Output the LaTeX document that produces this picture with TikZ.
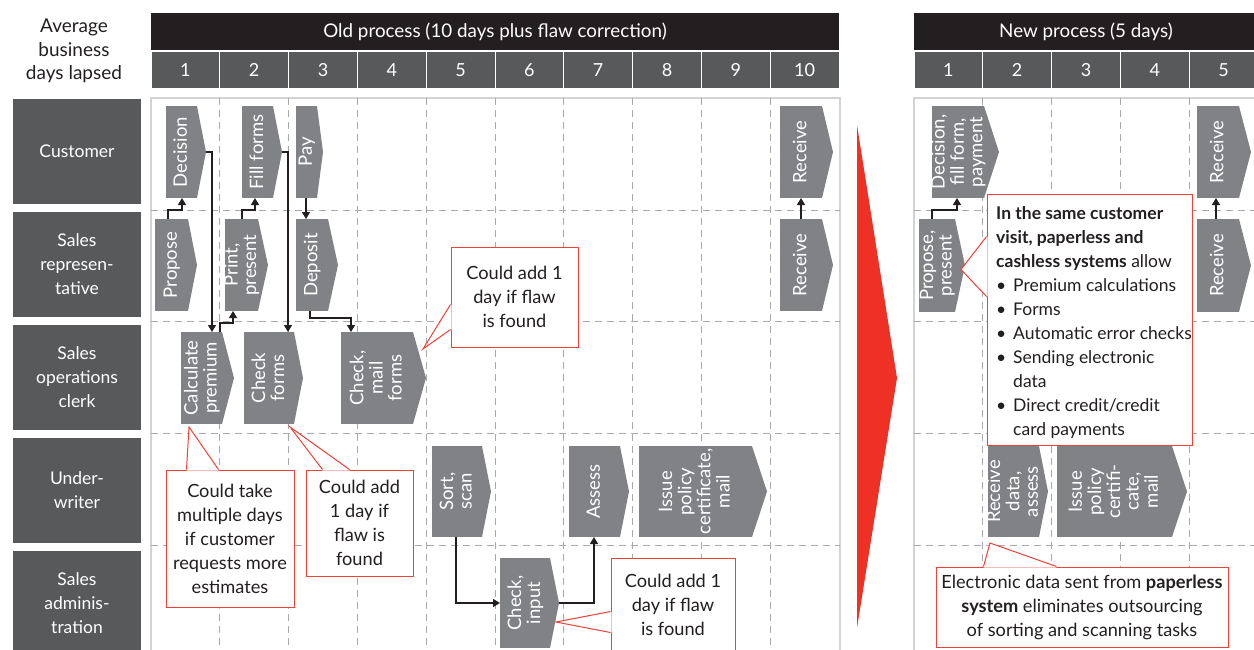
\documentclass[tikz,border=0pt]{standalone}
\usepackage{fontspec}
\setmainfont{Lato}
\usepackage{graphicx}
\usetikzlibrary{arrows.meta,calc}
\definecolor{inkblack}{HTML}{231F20}
\definecolor{darkgrey}{HTML}{58595B}
\definecolor{stepgrey}{HTML}{808285}
\definecolor{gridgrey}{HTML}{A7A9AC}
\definecolor{bordergrey}{HTML}{D1D3D4}
\definecolor{bigred}{HTML}{EE3124}
\definecolor{callred}{HTML}{EF4136}
\newcommand\blt{\makebox[17pt][l]{\textbullet}}
\newcommand\stepshape[7]{%
  \node[stepbody, minimum width={(#4)-(#2)}, minimum height={(#5)-(#3)}] (#1) at ({((#2)+(#4))/2},{((#3)+(#5))/2}) {};
  \fill[stepgrey] (#1.north east) -- ({#6},{((#3)+(#5))/2}) coordinate (#1-tip) -- (#1.south east) -- cycle;
  \node[steptext] (#1-t) at ($(#1.center)+(1.5,0)$) {\rotatebox{90}{\begin{tabular}{@{}c@{}}#7\end{tabular}}};
}
\tikzset{
  arr/.style={draw=inkblack, line width=1.2pt, -{Triangle[length=7pt,width=8pt]}},
  stepbody/.style={fill=stepgrey, draw=none, inner sep=0pt, outer sep=0pt},
  steptext/.style={text=white, inner sep=0pt, font=\fontsize{18.5}{18.5}\selectfont},
  lane/.style={fill=darkgrey, text=white, inner sep=0pt, align=center, minimum width=128pt, minimum height=105pt, font=\fontsize{17.5}{24}\selectfont},
  hdr/.style={fill=inkblack, text=white, inner sep=0pt, font=\fontsize{18.8}{21}\selectfont},
  daycell/.style={fill=darkgrey, text=white, inner sep=0pt, minimum width=67.8pt, minimum height=36pt, font=\fontsize{18}{21}\selectfont},
  griddash/.style={draw=gridgrey, line width=1pt, dash pattern=on 7pt off 5pt},
  panelborder/.style={draw=bordergrey, line width=1.5pt},
  callout/.style={draw=callred, fill=white, line width=1pt, inner sep=0pt, align=center, text=inkblack, font=\fontsize{18.2}{24}\selectfont},
  callline/.style={draw=callred, line width=1pt, line join=miter},
}
\begin{document}
\begin{tikzpicture}[x=1pt,y=-1pt]
\useasboundingbox (0,0) rectangle (1254,649);
\clip (0,0) rectangle (1254,649);
% ---------- headers ----------
\node[align=center, inner sep=0pt, text=inkblack, font=\fontsize{19}{23.5}\selectfont] (avg) at (74,51) {Average\\business\\days lapsed};
\node[hdr, minimum width=688pt, minimum height=37pt] (oldh) at (495,31.5) {Old process (10 days plus flaw correction)};
\foreach \i in {1,...,10} \node[daycell] (od\i) at ({151+68.8*(\i-0.5)},70) {\i};
\node[hdr, minimum width=344pt, minimum height=37pt] (newh) at (1086,31.5) {New process (5 days)};
\foreach \i in {1,...,5} \node[daycell] (nd\i) at ({914+68.8*(\i-0.5)},70) {\i};
% ---------- lane labels ----------
\node[lane] (l1) at (77,151.5) {Customer};
\node[lane] (l2) at (77,264.5) {Sales\\represen-\\tative};
\node[lane] (l3) at (77,377.5) {Sales\\operations\\clerk};
\node[lane] (l4) at (77,490.5) {Under-\\writer};
\node[lane] (l5) at (77,603) {Sales\\adminis-\\tration};
% ---------- grids ----------
\draw[panelborder] (151,98) rectangle (840,680);
\foreach \i in {1,...,9} \draw[griddash] ({151+68.8*\i},98) -- ({151+68.8*\i},649);
\foreach \yy in {210,321.5,433,545} \draw[griddash] (151,\yy) -- (840,\yy);
\draw[panelborder] (914,98) rectangle (1290,680);
\foreach \i in {1,...,4} \draw[griddash] ({914+68.8*\i},98) -- ({914+68.8*\i},649);
\foreach \yy in {210,321.5,433,545} \draw[griddash] (914,\yy) -- (1254,\yy);
% ---------- big red arrow ----------
\fill[bigred] (857,125) -- (897,378) -- (857,628) -- cycle;
% ---------- old process steps ----------
\stepshape{dec}{166}{106}{197}{198}{206}{Decision}
\stepshape{fill}{242}{106}{273}{198}{282}{Fill forms}
\stepshape{pay}{296}{106}{317}{198}{323}{Pay}
\stepshape{prop}{155}{219}{188}{311}{197}{Propose}
\stepshape{print}{225}{219}{258}{311}{268}{Print,\\present}
\stepshape{depo}{296}{219}{328}{311}{338}{Deposit}
\stepshape{calc}{181}{332}{222}{424}{234}{Calculate\\premium}
\stepshape{chk}{244}{332}{294}{424}{303}{Check\\forms}
\stepshape{chkm}{341}{332}{413}{424}{426}{Check,\\mail\\forms}
\stepshape{sort}{432}{446}{482}{537}{491}{Sort,\\scan}
\stepshape{assess}{569}{446}{620}{537}{629}{Assess}
\stepshape{issue}{639}{446}{752}{537}{767}{Issue\\policy\\certificate,\\mail}
\stepshape{chki}{500}{558}{550}{648}{559}{Check,\\input}
\stepshape{rec1}{780}{106}{822}{198}{833}{Receive}
\stepshape{rec2}{780}{219}{822}{311}{833}{Receive}
% ---------- new process steps ----------
\stepshape{ndec}{932}{106}{984}{198}{999}{Decision,\\fill form,\\payment}
\stepshape{nprop}{919}{219}{955}{312}{965}{Propose,\\present}
\stepshape{nrec1}{1197}{106}{1239}{198}{1251}{Receive}
\stepshape{nrec2}{1197}{219}{1239}{312}{1251}{Receive}
\stepshape{nrecd}{988}{446}{1039}{537}{1048}{Receive\\data,\\assess}
\stepshape{nissue}{1057}{446}{1172}{537}{1187}{Issue\\policy\\certifi-\\cate,\\mail}
% ---------- connectors ----------
\draw[arr] ($(prop.north west)+(13,0)$) |- ($(dec.south west)+(16,12)$) -- ($(dec.south west)+(16,0)$);
\draw[arr] ($(print.north west)+(17,0)$) |- ($(fill.south west)+(13,12)$) -- ($(fill.south west)+(13,0)$);
\draw[arr] ($(pay.south west)+(10,0)$) -- ($(depo.north west)+(10,0)$);
\draw[arr] (dec-tip) -| ($(calc.north west)+(31,0)$);
\draw[arr] ($(calc.north west)+(39,0)$) -- ++(0,-9) -| ($(print.south west)+(8,0)$);
\draw[arr] (fill-tip) -| ($(chk.north west)+(44,0)$);
\draw[arr] ($(depo.south west)+(14,0)$) -- ++(0,7) -| ($(chkm.north west)+(10,0)$);
\draw[arr] ($(sort.south west)+(24,0)$) |- (chki.west);
\draw[arr] (chki-tip) -| ($(assess.south west)+(25,0)$);
\draw[arr] ($(rec2.north west)+(21,0)$) -- ($(rec1.south west)+(21,0)$);
\draw[arr] ($(nprop.north west)+(13,0)$) |- ($(ndec.south west)+(25,12)$) -- ($(ndec.south west)+(25,0)$);
\draw[arr] ($(nrec2.north west)+(19,0)$) -- ($(nrec1.south west)+(19,0)$);
% ---------- callouts ----------
\node[callout, minimum width=128pt, minimum height=137pt] (c1) at (230,538.5) {Could take\\multiple days\\if customer\\requests more\\estimates};
\coordinate (c1p) at ($(calc.south west)+(8,3)$);
\fill[white] ($(c1.north west)+(21,1)$) -- (c1p) -- ($(c1.north west)+(53,1)$) -- cycle;
\draw[callline] ($(c1.north west)+(21,0)$) -- (c1p) -- ($(c1.north west)+(53,0)$);

\node[callout, minimum width=107pt, minimum height=106pt] (c2) at (359.5,523) {Could add\\1 day if\\flaw is\\found};
\coordinate (c2p) at ($(chk.south west)+(46,3)$);
\fill[white] ($(c2.north west)+(17,1)$) -- (c2p) -- ($(c2.north west)+(44,1)$) -- cycle;
\draw[callline] ($(c2.north west)+(17,0)$) -- (c2p) -- ($(c2.north west)+(44,0)$);

\node[callout, minimum width=127pt, minimum height=100pt] (c3) at (514.5,297) {Could add 1\\day if flaw\\is found};
\coordinate (c3p) at ($(chkm.north east)+(10,17)$);
\fill[white] ($(c3.north west)+(1,58)$) -- (c3p) -- ($(c3.north west)+(1,83)$) -- cycle;
\draw[callline] ($(c3.north west)+(0,58)$) -- (c3p) -- ($(c3.north west)+(0,83)$);

\node[callout, minimum width=124pt, minimum height=94pt] (c4) at (673,605) {Could add 1\\day if flaw\\is found};
\coordinate (c4p) at ($(chki.north east)+(6,64)$);
\fill[white] ($(c4.north west)+(1,54)$) -- (c4p) -- ($(c4.north west)+(1,75)$) -- cycle;
\draw[callline] ($(c4.north west)+(0,54)$) -- (c4p) -- ($(c4.north west)+(0,75)$);

\node[callout, minimum width=205pt, minimum height=251pt] (c5) at (1089.5,319.5) {};
\coordinate (c5p) at ($(nprop.east)+(6,4)$);
\fill[white] ($(c5.north west)+(1,43)$) -- (c5p) -- ($(c5.north west)+(1,103)$) -- cycle;
\draw[callline] ($(c5.north west)+(0,43)$) -- (c5p) -- ($(c5.north west)+(0,103)$);
\node[anchor=west, align=left, inner sep=0pt, text=inkblack, font=\fontsize{17.5}{24}\selectfont] (c5t) at (996,322) {\textbf{In the same customer}\\\textbf{visit, paperless and}\\\textbf{cashless systems} allow\\\blt Premium calculations\\\blt Forms\\\blt Automatic error checks\\\blt Sending electronic\\\hspace*{17pt}data\\\blt Direct credit/credit\\\hspace*{17pt}card payments};

\node[callout, minimum width=292pt, minimum height=80pt] (c6) at (1082,607) {Electronic data sent from \textbf{paperless}\\\textbf{system} eliminates outsourcing\\of sorting and scanning tasks};
\coordinate (c6p) at ($(nrecd.south west)+(2,6)$);
\fill[white] ($(c6.north west)+(48,1)$) -- (c6p) -- ($(c6.north west)+(121,1)$) -- cycle;
\draw[callline] ($(c6.north west)+(48,0)$) -- (c6p) -- ($(c6.north west)+(121,0)$);
\end{tikzpicture}
\end{document}
